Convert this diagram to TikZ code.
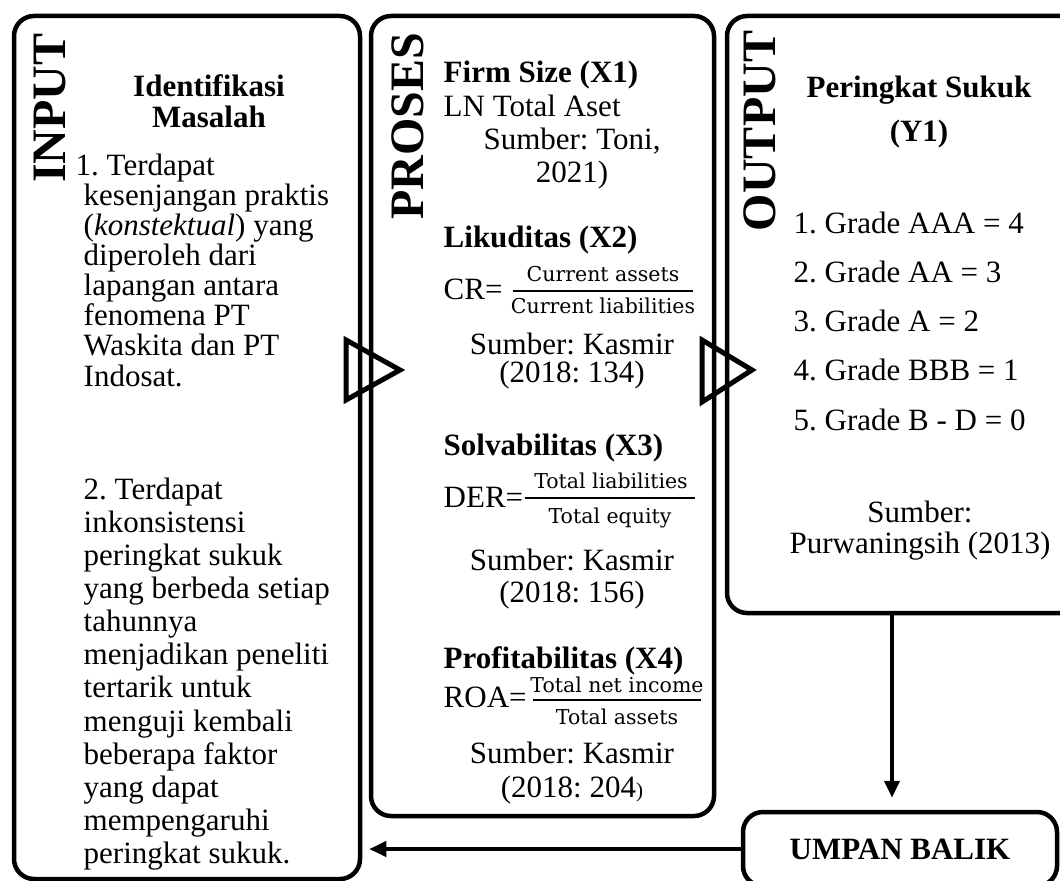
\documentclass[tikz,border=0pt]{standalone}
\usepackage{fontspec}
\setmainfont{Liberation Serif}
\newfontfamily\fracfont{DejaVu Serif}
\usetikzlibrary{arrows.meta}
\frenchspacing

\begin{document}
\begin{tikzpicture}[
	frame/.style={draw, line width=0.45mm, rounded corners=2mm, inner sep=0pt},
	title/.style={inner sep=0pt, rotate=90, font=\fontsize{13.66pt}{13.66pt}\selectfont\bfseries},
	body/.style={inner sep=0pt, font=\fontsize{8.82pt}{#1}\selectfont}, body/.default=8.54pt,
	bold/.style={inner sep=0pt, font=\fontsize{8.82pt}{#1}\selectfont\bfseries}, bold/.default=8.82pt,
	frac/.style={inner sep=0pt, anchor=base, font=\fracfont\fontsize{5.83pt}{5.83pt}\selectfont},
	lft/.style={anchor=base west, align=left},
	mid/.style={anchor=base, align=center},
	bar/.style={line width=0.2mm},
	tri/.style={line width=0.5mm},
	arr/.style={line width=0.4mm, -{Triangle[length=1.7mm,width=1.5mm]}}]

%\draw[help lines] (0,0) grid (106mm,-88.1mm);
	\clip (0,0) rectangle (106mm,-88.1mm);%batas gambar

	\node[frame, minimum width=34.6mm, minimum height=86.3mm] (input) at (18.7mm,-44.75mm) {};%kotak input
	\node[frame, minimum width=34.3mm, minimum height=80mm] (proses) at (54.25mm,-41.6mm) {};%kotak proses
	\node[frame, minimum width=35.3mm, minimum height=59.7mm] (output) at (90.35mm,-31.45mm) {};%kotak output
	\node[frame, minimum width=31.4mm, minimum height=7.4mm, font=\fontsize{8.82pt}{8.82pt}\selectfont\bfseries] (umpan) at (90mm,-84.9mm) {UMPAN BALIK};

	\node[title] (tin) at (5.0mm,-10.8mm) {INPUT};
	\node[title] (tpro) at (40.8mm,-12.6mm) {PROSES};
	\node[title] (tout) at (76.0mm,-13.1mm) {OUTPUT};

	%input (anchor base = baris terakhir)
	\node[bold, mid] (idm) at (20.9mm,-12.8mm) {Identifikasi\\Masalah};
	\node[body, lft] (item1) at (8.3mm,-38.6mm) {\hspace*{-0.8mm}1. Terdapat\\kesenjangan praktis\\(\textit{konstektual}) yang\\diperoleh dari\\lapangan antara\\fenomena PT\\Waskita dan PT\\Indosat.};
	\node[body=9.39pt, lft] (item2) at (8.3mm,-86.3mm) {2. Terdapat\\inkonsistensi\\peringkat sukuk\\yang berbeda setiap\\tahunnya\\menjadikan peneliti\\tertarik untuk\\menguji kembali\\beberapa faktor\\yang dapat\\mempengaruhi\\peringkat sukuk.};

	%proses
	\node[bold, lft] (x1) at (44.3mm,-8.3mm) {Firm Size (X1)};
	\node[body, lft] (x1a) at (44.3mm,-11.7mm) {LN Total Aset};
	\node[body=9.39pt, mid] (x1s) at (57.2mm,-18.3mm) {Sumber: Toni,\\2021)};

	\node[bold, lft] (x2) at (44.3mm,-24.8mm) {Likuditas (X2)};
	\node[body, lft] (cr) at (44.3mm,-30.0mm) {CR=};
	\node[frac] (crn) at (60.3mm,-28.2mm) {Current assets};
	\node[frac] (crd) at (60.3mm,-31.3mm) {Current liabilities};
	\draw[bar] (51.3mm,-29.1mm) -- (69.3mm,-29.1mm);
	\node[body=7.97pt, mid] (x2s) at (57.2mm,-38.3mm) {Sumber: Kasmir\\(2018: 134)};

	\node[bold, lft] (x3) at (44.3mm,-45.5mm) {Solvabilitas (X3)};
	\node[body, lft] (der) at (44.3mm,-50.7mm) {DER=};
	\node[frac] (dern) at (61.1mm,-48.8mm) {Total liabilities};
	\node[frac] (derd) at (61.0mm,-52.3mm) {Total equity};
	\draw[bar] (52.5mm,-49.8mm) -- (69.5mm,-49.8mm);
	\node[body=9.1pt, mid] (x3s) at (57.2mm,-60.2mm) {Sumber: Kasmir\\(2018: 156)};

	\node[bold, lft] (x4) at (44.3mm,-66.8mm) {Profitabilitas (X4)};
	\node[body, lft] (roa) at (44.3mm,-70.7mm) {ROA=};
	\node[frac] (roan) at (61.7mm,-69.2mm) {Total net income};
	\node[frac] (road) at (61.7mm,-72.4mm) {Total assets};
	\draw[bar] (53.3mm,-70.0mm) -- (70.1mm,-70.0mm);
	\node[body=9.67pt, mid] (x4s) at (57.2mm,-79.7mm) {Sumber: Kasmir\\(2018: 204{\fontsize{6pt}{6pt}\selectfont)}};

	%output
	\node[bold=12.8pt, mid] (y1) at (91.9mm,-14.2mm) {Peringkat Sukuk\\(Y1)};
	\node[body=14.0pt, lft] (grade) at (79.3mm,-43.0mm) {1. Grade AAA = 4\\2. Grade AA = 3\\3. Grade A = 2\\4. Grade BBB = 1\\5. Grade B - D = 0};
	\node[body, mid] (ysrc) at (92.0mm,-55.3mm) {Sumber:\\Purwaningsih (2013)};

	%panah segitiga
	\draw[tri] (34.6mm,-34mm) -- (40mm,-37mm) -- (34.6mm,-40mm) -- cycle;
	\draw[tri] (70.2mm,-34mm) -- (75.2mm,-37mm) -- (70.2mm,-40.2mm) -- cycle;

	%umpan balik
	\coordinate (dn) at ([xshift=-0.8mm,yshift=1.2mm]umpan.north);
	\draw[arr] (dn |- output.south) -- (dn);
	\draw[arr] (umpan.west) -- ([xshift=0.7mm]input.east |- umpan.west);
\end{tikzpicture}
\end{document}
